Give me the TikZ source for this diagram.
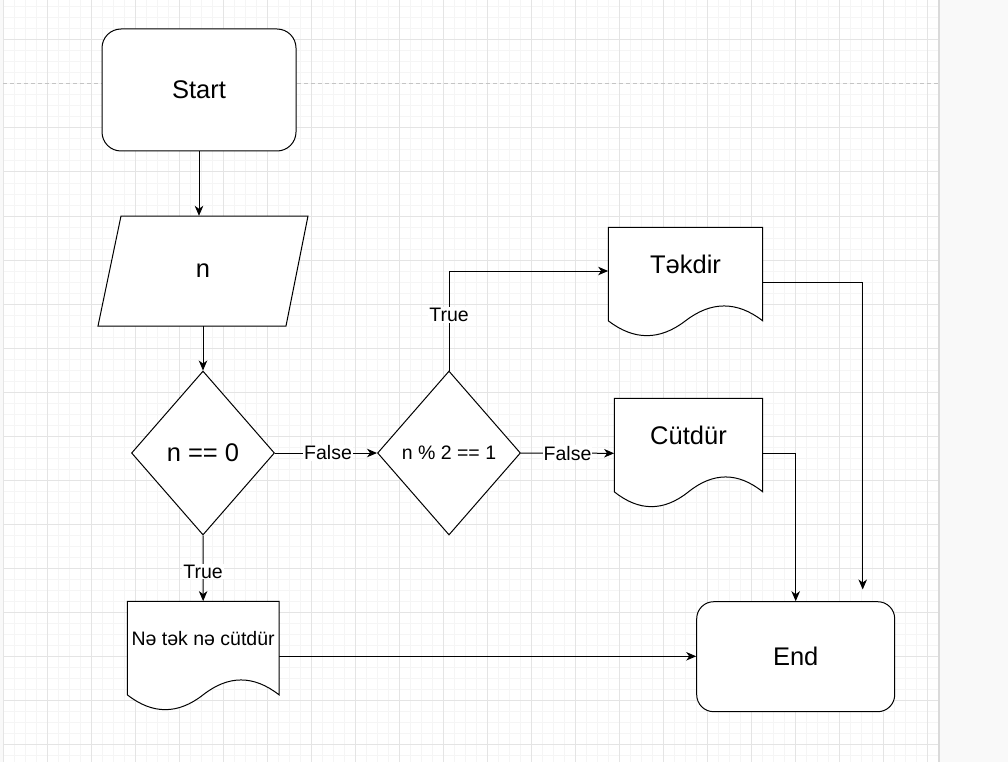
\documentclass[tikz,border=0pt]{standalone}
\usepackage{fontspec}
\setmainfont{Liberation Sans}
\usetikzlibrary{arrows.meta,shapes.geometric,calc}
\definecolor{minorg}{HTML}{F5F5F5}
\definecolor{majorg}{HTML}{E4E4E4}
\definecolor{outside}{HTML}{F9F9F9}
\definecolor{pagebrk}{HTML}{C4C4C4}
\definecolor{pageedge}{HTML}{DADADA}
\newcommand\fxbig{\fontsize{25.5}{30}\selectfont}
\newcommand\fxmed{\fontsize{19.5}{23}\selectfont}
\newcommand\fxlbl{\fontsize{19.5}{22}\selectfont}
\tikzset{
  shapeline/.style={draw=black, line width=1pt, fill=white},
  term/.style={shapeline, rounded corners=19pt, inner sep=0pt, font=\fxbig},
  decbox/.style={shapeline, diamond, inner sep=0pt, minimum width=143, minimum height=164},
  anchorbox/.style={inner sep=0pt, rectangle},
  conn/.style={draw=black, line width=1pt, -{Stealth[length=10pt,width=8.5pt,inset=3pt]}},
  lbl/.style={fill=white, inner sep=1pt, font=\fxlbl},
  minorline/.style={draw=minorg, line width=1pt},
  majorline/.style={draw=majorg, line width=1pt},
}
% document shape outline: #1 cx, #2 cy, #3 half width (height 110)
\newcommand\docoutline[3]{%
  \draw[shapeline, shift={(#1,#2)}] (-#3,-55) -- (#3,-55) -- (#3,38.5)
    .. controls ({2*#3/3},18.7) and ({#3/3},18.7) .. (0,38.5)
    .. controls ({-#3/3},58.3) and ({-2*#3/3},58.3) .. (-#3,38.5) -- cycle;}
\begin{document}
\begin{tikzpicture}[x=1pt,y=-1pt]
\useasboundingbox (0,0) rectangle (1008,762);
% canvas background and grid
\fill[outside] (0,0) rectangle (1008,762);
\fill[white] (3,0) rectangle (939,762);
\foreach \i in {0,...,85} \draw[minorline] ({3.7+11*\i},0) -- ({3.7+11*\i},762);
\foreach \j in {0,...,68} \draw[minorline] (3,{7+11*\j}) -- (939,{7+11*\j});
\foreach \i in {0,...,21} \draw[majorline] ({3.7+44*\i},0) -- ({3.7+44*\i},762);
\foreach \j in {0,2,3,4,5,6,7,8,9,10,11,12,13,14,15,16} \draw[majorline] (3,{40+44*\j}) -- (939,{40+44*\j});
\draw[pagebrk, line width=1pt, dash pattern=on 4pt off 3pt] (3,84) -- (939,84);
\draw[pageedge, line width=2pt] (939,0) -- (939,762);

% shapes
\node[term, minimum width=194, minimum height=122] (start) at (199,90) {Start};
\filldraw[shapeline] (121,216) -- (308,216) -- (286,326) -- (98,326) -- cycle;
\node[anchorbox, minimum width=188, minimum height=110, font=\fxbig] (inp) at (203,271) {n};
\node[decbox, font=\fxbig] (d1) at (203,453) {n == 0};
\node[decbox, font=\fxmed] (d2) at (449,453) {n \% 2 == 1};

\docoutline{685.5}{282.3}{77.2}
\node[anchorbox, minimum width=154.4, minimum height=110] (tek) at (685.5,282.3) {};
\node[anchorbox, font=\fxbig] (tektxt) at ([yshift=17.8pt]tek.center) {Təkdir};

\docoutline{688.5}{453.3}{74.2}
\node[anchorbox, minimum width=148.4, minimum height=110] (cut) at (688.5,453.3) {};
\node[anchorbox, font=\fxbig] (cuttxt) at ([yshift=17.6pt]cut.center) {Cütdür};

\docoutline{203.15}{656.3}{75.85}
\node[anchorbox, minimum width=151.7, minimum height=110] (ne) at (203.15,656.3) {};
\node[anchorbox, font=\fxmed] (netxt) at ([yshift=17.8pt]ne.center) {Nə tək nə cütdür};

\node[term, minimum width=198, minimum height=110, rounded corners=17pt] (end) at (795.7,656.7) {End};

% connectors
\coordinate (tekend) at (862.7,589.5);
\draw[conn] (start.south) -- (start.south |- inp.north);
\draw[conn] (inp.south) -- (d1.north);
\draw[conn] (d1.east) -- node[lbl, pos=0.52] {False} (d2.west);
\draw[conn] (d2.north) |- node[lbl, pos=0.28] {True} ([yshift=11.3pt]tek.west);
\draw[conn] (d2.east) -- node[lbl] {False} (cut.west);
\draw[conn] (d1.south) -- node[lbl, pos=0.55] {True} (ne.north);
\draw[conn] (ne.east) -- (ne.east -| end.west);
\draw[conn] (cut.east) -| (end.north);
\draw[conn] (tek.east) -| (tekend);
\end{tikzpicture}
\end{document}
